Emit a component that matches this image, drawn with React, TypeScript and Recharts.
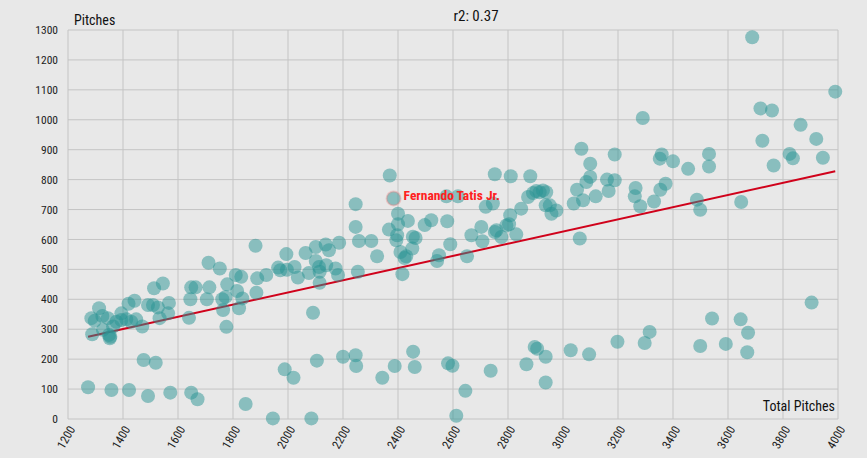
import { ScatterChart, Scatter, XAxis, YAxis, CartesianGrid, ReferenceLine } from 'recharts';

// [total pitches seen, pitches of the kind tracked]
const mainBand: [number, number][] = [
  [1285, 337], [1288, 283], [1297, 328], [1313, 370], [1325, 344], [1345, 337], [1327, 298],
  [1349, 281], [1352, 270], [1354, 275], [1364, 309], [1376, 325], [1394, 353], [1394, 331],
  [1412, 333], [1430, 325], [1420, 385], [1442, 395], [1448, 333], [1470, 309], [1491, 381],
  [1509, 381], [1513, 437], [1527, 373], [1533, 337], [1545, 453], [1564, 353], [1567, 388],
  [1640, 338], [1645, 400], [1648, 440], [1664, 440], [1705, 400], [1711, 522], [1714, 440],
  [1752, 503], [1761, 400], [1764, 364], [1773, 408], [1776, 308], [1779, 450], [1810, 481],
  [1815, 428], [1822, 370], [1830, 475], [1834, 403], [1882, 579], [1885, 422], [1888, 470],
  [1921, 481], [1964, 506], [1972, 497], [1994, 551], [1996, 499], [2024, 508], [2036, 473],
];

const midBand: [number, number][] = [
  [2064, 555], [2101, 575], [2137, 583], [2149, 564], [2186, 589], [2101, 528], [2113, 508],
  [2115, 492], [2076, 488], [2139, 514], [2173, 503], [2182, 481], [2115, 455], [2254, 492],
  [2370, 814], [2246, 718], [2246, 642], [2400, 686], [2436, 662], [2367, 633], [2400, 651],
  [2397, 614], [2394, 597], [2454, 609], [2464, 605], [2258, 595], [2303, 595], [2324, 544],
  [2409, 558], [2430, 544], [2452, 570], [2424, 538], [2416, 484], [2497, 648], [2521, 664],
  [2579, 661], [2576, 744], [2618, 744], [2590, 584], [2667, 614], [2542, 528], [2549, 547],
  [2651, 544], [2703, 642], [2707, 594], [2719, 709], [2745, 720], [2752, 818], [2752, 625],
  [2758, 631], [2776, 608], [2794, 647], [2804, 651], [2808, 681], [2830, 617], [2810, 811],
  [2848, 703], [2873, 742], [2891, 755], [2903, 762], [2915, 758], [2927, 764], [2939, 758],
  [2881, 811], [2937, 714], [2952, 714], [2958, 686], [2976, 697],
];

const highBand: [number, number][] = [
  [3067, 903], [3099, 853], [3099, 809], [3085, 792], [3051, 766], [3039, 720], [3073, 731],
  [3119, 744], [3061, 603], [3160, 800], [3188, 798], [3166, 762], [3188, 884], [3264, 772],
  [3261, 744], [3281, 711], [3331, 727], [3352, 870], [3359, 884], [3354, 766], [3373, 786],
  [3290, 1006], [3688, 1276], [3990, 1094], [3718, 1038], [3760, 1031], [3864, 983],
  [3725, 930], [3921, 936], [3824, 886], [3836, 871], [3945, 873], [3766, 847], [3531, 886],
  [3531, 844], [3400, 861], [3455, 836], [3487, 733], [3499, 699], [3648, 725],
];

const lowBand: [number, number][] = [
  [1273, 106], [1358, 97], [1422, 97], [1475, 197], [1491, 77], [1519, 188], [1572, 88],
  [1648, 88], [1671, 66], [1846, 50], [1945, 2], [1988, 166], [2020, 138], [2091, 355],
  [2105, 195], [2200, 208], [2246, 213], [2248, 177], [2343, 138], [2388, 177], [2455, 225],
  [2461, 174], [2582, 186], [2598, 178], [2645, 94], [2612, 11], [2085, 2], [2737, 161],
  [2867, 183], [2897, 241], [2906, 235], [2937, 208], [2937, 122], [3028, 230], [3095, 216],
  [3198, 258], [3297, 254], [3315, 291], [3904, 389], [3542, 336], [3646, 333], [3673, 288],
  [3592, 251], [3499, 244], [3670, 223],
];

const highlightName = 'Fernando Tatis Jr.';
const highlightPoint: [number, number] = [2384, 737];

const trendStart: [number, number] = [1273, 275];
const trendEnd: [number, number] = [3990, 828];

const xTicks = [1200, 1400, 1600, 1800, 2000, 2200, 2400, 2600, 2800, 3000, 3200, 3400, 3600, 3800, 4000];
const yTicks = [0, 100, 200, 300, 400, 500, 600, 700, 800, 900, 1000, 1100, 1200, 1300];

const title = 'r2: 0.37';

const FONT = "'Roboto Condensed', 'Liberation Sans Narrow', 'Arial Narrow', Roboto, sans-serif";
const TEAL = '#2a9494';

const toPoints = (rows: [number, number][]) => rows.map(([total, pitches]) => ({ total, pitches }));

const Dot = (props: any) => (
  <circle cx={props.cx} cy={props.cy} r={7} fill={TEAL} fillOpacity={0.5} />
);

const HighlightDot = (props: any) => (
  <g>
    <circle cx={props.cx} cy={props.cy} r={7} fill={TEAL} fillOpacity={0.5} stroke="#f08080" strokeOpacity={0.35} strokeWidth={2} />
    <text x={props.cx + 10} y={props.cy} dy="0.15em" fill="#ff2020" fontSize={13.5} fontWeight="bold" fontFamily={FONT}>
      {highlightName}
    </text>
  </g>
);

const XTick = (props: any) => {
  const { x, y, payload } = props;
  return (
    <g transform={`translate(${x + 4},${y + 6})`}>
      <text textAnchor="end" dy="0.35em" transform="rotate(-60)" fontSize={12} fill="#222" fontFamily={FONT}>
        {payload.value}
      </text>
    </g>
  );
};

export default function App() {
  return (
    <div style={{ width: 867, height: 458, background: '#e8e8e8', position: 'relative', fontFamily: FONT }}>
      <style>{`body{margin:0;background:#e8e8e8}`}</style>
      <ScatterChart width={867} height={458} margin={{ top: 30, right: 29, left: 0, bottom: 0 }}>
        <CartesianGrid stroke="#c4c4c4" strokeWidth={1} />
        <XAxis
          type="number"
          dataKey="total"
          domain={[1200, 4000]}
          ticks={xTicks}
          interval={0}
          height={39}
          axisLine={false}
          tickLine={false}
          tickSize={0}
          tick={<XTick />}
        />
        <YAxis
          type="number"
          dataKey="pitches"
          domain={[0, 1300]}
          ticks={yTicks}
          interval={0}
          width={68}
          axisLine={false}
          tickLine={false}
          tickSize={0}
          tickMargin={10}
          tick={{ fontSize: 11.5, fill: '#222', fontFamily: FONT }}
        />
        <Scatter data={toPoints(mainBand)} shape={<Dot />} isAnimationActive={false} />
        <Scatter data={toPoints(midBand)} shape={<Dot />} isAnimationActive={false} />
        <Scatter data={toPoints(highBand)} shape={<Dot />} isAnimationActive={false} />
        <Scatter data={toPoints(lowBand)} shape={<Dot />} isAnimationActive={false} />
        <ReferenceLine
          segment={[
            { x: trendStart[0], y: trendStart[1] },
            { x: trendEnd[0], y: trendEnd[1] },
          ]}
          stroke="#d0021b"
          strokeWidth={2}
        />
        <Scatter data={toPoints([highlightPoint])} shape={<HighlightDot />} isAnimationActive={false} />
      </ScatterChart>
      <div style={{ position: 'absolute', left: 74, top: 12, fontSize: 14, color: '#111' }}>Pitches</div>
      <div style={{ position: 'absolute', left: 0, width: 952, top: 7, textAlign: 'center', fontSize: 15, color: '#111' }}>{title}</div>
      <div style={{ position: 'absolute', right: 32, top: 398, fontSize: 14, color: '#111' }}>Total Pitches</div>
    </div>
  );
}
